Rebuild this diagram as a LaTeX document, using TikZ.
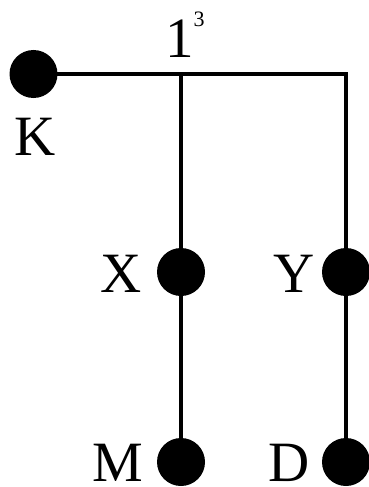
\documentclass[tikz,border=0pt]{standalone}
\usepackage{fontspec}
\setmainfont{Liberation Serif}
\begin{document}
\begin{tikzpicture}[x=1pt,y=-1pt,
  dot/.style={circle,fill=black,minimum size=48pt,inner sep=0pt},
  lab/.style={font=\fontsize{57}{57}\selectfont,inner sep=0pt,anchor=base,text depth=0pt},
  wire/.style={line width=4.5pt}]
\useasboundingbox (0,0) rectangle (369,487);
\node[dot] (K) at (33.5,74) {};
\node[dot] (X) at (181,272) {};
\node[dot] (Y) at (346,272) {};
\node[dot] (M) at (181,462) {};
\node[dot] (D) at (346,462) {};
\coordinate (J) at (181,74);
\coordinate (C) at (346,74);
\draw[wire] (K.center) -- (J) -- (C) -- (Y.center);
\draw[wire] (J) -- (X.center);
\draw[wire] (X.center) -- (M.center);
\draw[wire] (Y.center) -- (D.center);
\node[lab] (lK) at (35,155) {K};
\node[lab] (lX) at (121,292) {X};
\node[lab] (lY) at (294.5,292) {Y};
\node[lab] (lM) at (118,481) {M};
\node[lab] (lD) at (289,481) {D};
\node[lab,anchor=base west] (l1) at (165,57) {1\raisebox{30pt}{\fontsize{22}{22}\selectfont 3}};
\end{tikzpicture}
\end{document}
